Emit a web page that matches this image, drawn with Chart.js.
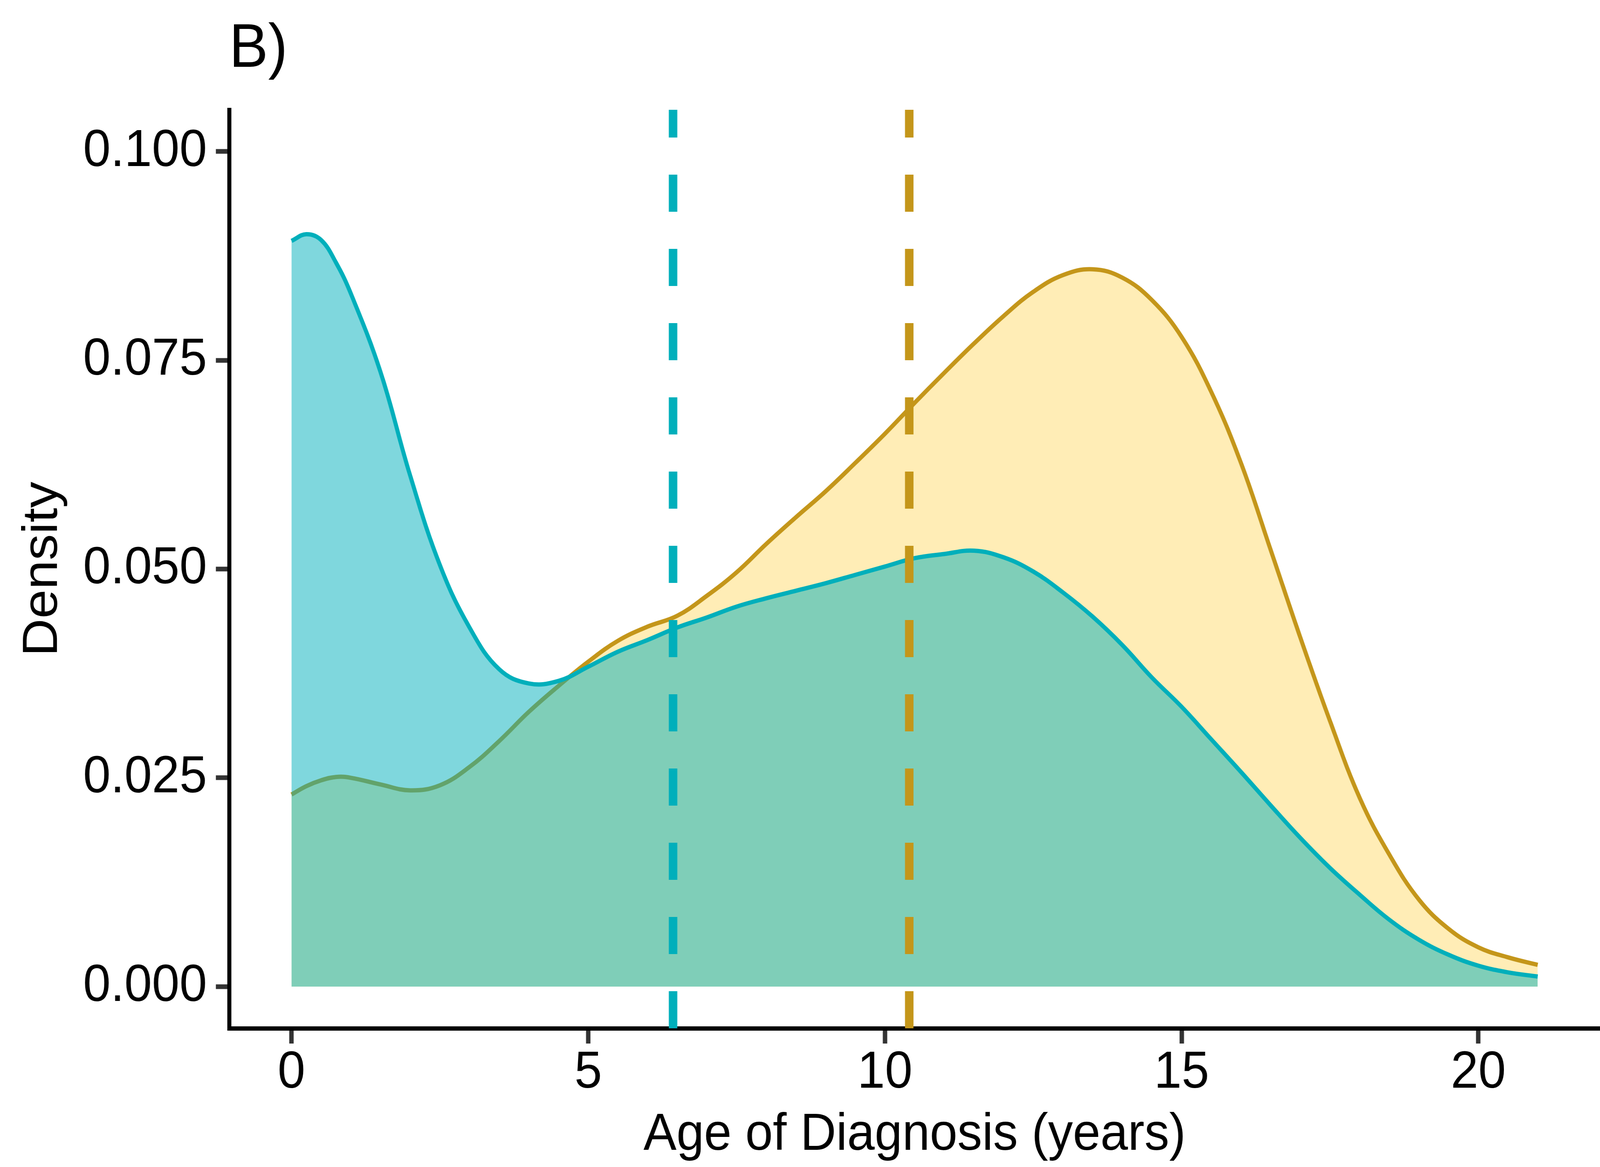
<!DOCTYPE html>
<html>
<head>
<meta charset="utf-8">
<title>Age of Diagnosis density</title>
<script src="https://cdn.jsdelivr.net/npm/chart.js@4.4.1/dist/chart.umd.min.js"></script>
<style>
  html, body { margin: 0; padding: 0; background: #fff; overflow: hidden; }
</style>
</head>
<body>
<!-- Lienzo dibujado a 4329x2987 y ajustado a la ventana -->
<canvas id="density-chart" width="4329" height="2987" style="width:100vw;height:100vh;display:block"></canvas>
<script>
// --- Datos ---
const ageGrid = [0, 0.25, 0.5, 0.75, 1, 1.5, 2, 2.5, 3, 3.5, 4, 4.5, 5, 5.5, 6, 6.5, 7, 7.5, 8, 8.5, 9, 9.5,
    10, 10.5, 11, 11.5, 12, 12.5, 13, 13.5, 14, 14.5, 15, 15.5, 16, 16.5, 17, 17.5, 18, 18.5, 19, 19.5, 20, 20.5, 21];

const densityTeal = [0.0893, 0.0901, 0.0894, 0.0867, 0.0830, 0.0736, 0.0612, 0.0505, 0.0430, 0.0380, 0.0363, 0.0366,
    0.0383, 0.0401, 0.0415, 0.0430, 0.0442, 0.0455, 0.0465, 0.0474, 0.0483, 0.0493, 0.0503, 0.0513, 0.0518, 0.0522,
    0.0514, 0.0497, 0.0472, 0.0443, 0.0409, 0.0370, 0.0335, 0.0296, 0.0257, 0.0217, 0.0178, 0.0142, 0.0110, 0.0080,
    0.0056, 0.0038, 0.0025, 0.0017, 0.0012];

const densityGold = [0.0230, 0.0240, 0.0247, 0.0251, 0.0250, 0.0242, 0.0235, 0.0241, 0.0263, 0.0294, 0.0329, 0.0360,
    0.0389, 0.0414, 0.0431, 0.0444, 0.0468, 0.0496, 0.0530, 0.0562, 0.0593, 0.0627, 0.0662, 0.0699, 0.0735, 0.0770,
    0.0803, 0.0832, 0.0852, 0.0859, 0.0849, 0.0822, 0.0778, 0.0712, 0.0627, 0.0523, 0.0418, 0.0318, 0.0226, 0.0158,
    0.0104, 0.0069, 0.0047, 0.0035, 0.0026];

// Medias (líneas discontinuas verticales)
const meanTeal = 6.43;
const meanGold = 10.41;

const xTicks = [0, 5, 10, 15, 20];
const yTicks = [0, 0.025, 0.05, 0.075, 0.1];
const xRange = [-1.05, 22.05];
const yRange = [-0.005, 0.105];

// --- Estilo ---
const FONT = "'Liberation Sans', Arial, Helvetica, sans-serif";
const tealLine = '#00AFBB';
const tealFill = 'rgba(0, 175, 187, 0.5)';
const goldLine = '#C4961A';
const goldFill = 'rgba(255, 219, 109, 0.5)';

Chart.defaults.font.family = FONT;
Chart.defaults.color = '#000';

const toPoints = (ys) => ageGrid.map((x, i) => ({ x: x, y: ys[i] }));
const vline = (x) => [{ x: x, y: yRange[0] }, { x: x, y: yRange[1] }];

const ctx = document.getElementById('density-chart').getContext('2d');

new Chart(ctx, {
    type: 'line',
    data: {
        datasets: [
            {
                label: 'Media (oro)',
                data: vline(meanGold),
                borderColor: goldLine,
                borderWidth: 23,
                borderDash: [95, 95],
                borderCapStyle: 'butt',
                pointRadius: 0,
                fill: false,
                order: 0
            },
            {
                label: 'Media (turquesa)',
                data: vline(meanTeal),
                borderColor: tealLine,
                borderWidth: 23,
                borderDash: [95, 95],
                borderCapStyle: 'butt',
                pointRadius: 0,
                fill: false,
                order: 1
            },
            {
                label: 'Turquesa',
                data: toPoints(densityTeal),
                borderColor: tealLine,
                backgroundColor: tealFill,
                borderWidth: 11,
                pointRadius: 0,
                tension: 0.4,
                fill: { value: 0 },
                order: 2
            },
            {
                label: 'Oro',
                data: toPoints(densityGold),
                borderColor: goldLine,
                backgroundColor: goldFill,
                borderWidth: 11,
                pointRadius: 0,
                tension: 0.4,
                fill: { value: 0 },
                order: 3
            }
        ]
    },
    options: {
        responsive: false,
        devicePixelRatio: 1,
        animation: false,
        layout: { padding: 0 },
        plugins: {
            legend: { display: false },
            tooltip: { enabled: false },
            title: {
                display: true,
                text: 'B)',
                align: 'start',
                fullSize: false,
                color: '#000',
                font: { size: 158, weight: 'normal', lineHeight: 1 },
                padding: { top: 48, bottom: 75 }
            }
        },
        scales: {
            x: {
                type: 'linear',
                min: xRange[0],
                max: xRange[1],
                afterBuildTicks: (axis) => { axis.ticks = xTicks.map(v => ({ value: v })); },
                afterFit: (axis) => { axis.height = 355; },
                border: { display: true, color: '#000', width: 11 },
                grid: { display: true, drawOnChartArea: false, drawTicks: true, tickLength: 39, tickWidth: 12, tickColor: '#333' },
                ticks: {
                    autoSkip: false,
                    maxRotation: 0,
                    padding: 9,
                    color: '#000',
                    font: { size: 134, lineHeight: 1 },
                    callback: (v) => String(v)
                },
                title: {
                    display: true,
                    text: 'Age of Diagnosis (years)',
                    color: '#000',
                    font: { size: 134, lineHeight: 1 },
                    padding: { top: 0, bottom: 14 }
                }
            },
            y: {
                type: 'linear',
                min: yRange[0],
                max: yRange[1],
                afterBuildTicks: (axis) => { axis.ticks = yTicks.map(v => ({ value: v })); },
                afterFit: (axis) => { axis.width = 620; },
                border: { display: true, color: '#000', width: 11 },
                grid: { display: true, drawOnChartArea: false, drawTicks: true, tickLength: 36, tickWidth: 12, tickColor: '#333' },
                ticks: {
                    autoSkip: false,
                    padding: 24,
                    color: '#000',
                    font: { size: 134, lineHeight: 1 },
                    callback: (v) => Number(v).toFixed(3)
                },
                title: {
                    display: true,
                    text: 'Density',
                    color: '#000',
                    font: { size: 134, lineHeight: 1 },
                    padding: { top: 50, bottom: 0 }
                }
            }
        }
    }
});
</script>
</body>
</html>
